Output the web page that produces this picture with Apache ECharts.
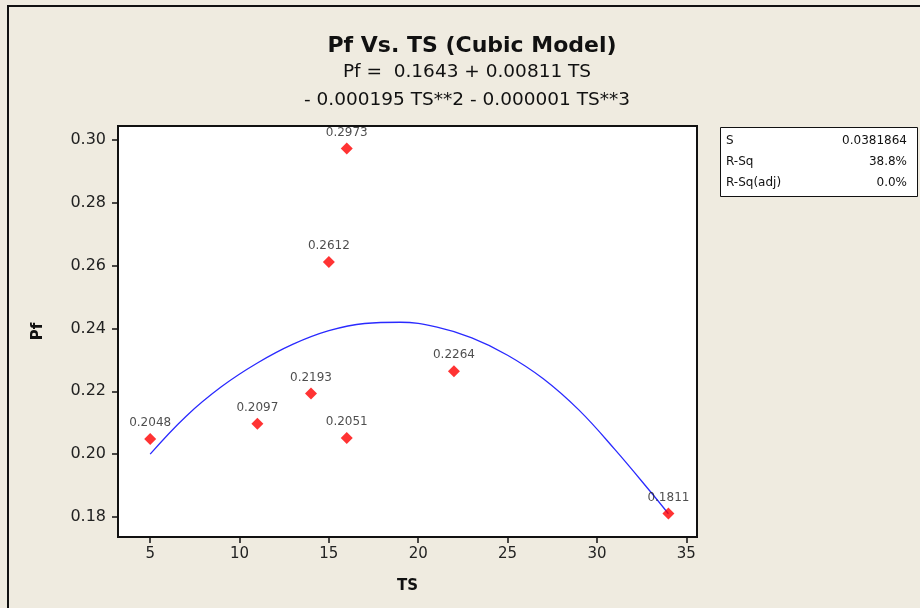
<!DOCTYPE html>
<html>
<head>
<meta charset="utf-8">
<script src="https://cdn.jsdelivr.net/npm/echarts@6/dist/echarts.min.js"></script>
<style>
html,body{margin:0;padding:0;background:#efebe0;}
#c{width:920px;height:608px;}
</style>
</head>
<body>
<div id="c"></div>
<script>
// Observed data
var tsValues = [5, 11, 14, 15, 16, 16, 22, 34];
var pfValues = [0.2048, 0.2097, 0.2193, 0.2612, 0.2973, 0.2051, 0.2264, 0.1811];
// Fitted curve
var fitTS = [5, 7, 9, 11, 13, 15, 17, 19, 21, 23, 25, 27, 29, 31, 33, 34];
var fitPf = [0.2000, 0.2120, 0.2215, 0.2290, 0.2350, 0.2393, 0.2416, 0.2420, 0.2405, 0.2370, 0.2315, 0.2240, 0.2140, 0.2015, 0.1880, 0.1810];
var xTicks = [5, 10, 15, 20, 25, 30, 35];
var yTicks = [0.18, 0.20, 0.22, 0.24, 0.26, 0.28, 0.30];
var statNames = ['S', 'R-Sq', 'R-Sq(adj)'];
var statValues = ['0.0381864', '38.8%', '0.0%'];

var FONT = 'DejaVu Sans';
var chart = echarts.init(document.getElementById('c'));

var pts = tsValues.map(function (x, i) { return [x, pfValues[i]]; });
var fit = fitTS.map(function (x, i) { return [x, fitPf[i]]; });

var graphics = [
  {type: 'rect', shape: {x: 8, y: 6, width: 940, height: 640}, style: {fill: 'none', stroke: '#111', lineWidth: 2}, z: 0},
  {type: 'rect', shape: {x: 720.5, y: 127.5, width: 197, height: 69}, style: {fill: '#fff', stroke: '#111', lineWidth: 1}},
  {type: 'text', x: 467, y: 72, style: {text: 'Pf =  0.1643 + 0.00811 TS', fontFamily: FONT, fontSize: 18.5, fill: '#111', align: 'center', verticalAlign: 'middle'}},
  {type: 'text', x: 467, y: 100, style: {text: '- 0.000195 TS**2 - 0.000001 TS**3', fontFamily: FONT, fontSize: 18.5, fill: '#111', align: 'center', verticalAlign: 'middle'}}
];
statNames.forEach(function (n, i) {
  graphics.push({type: 'text', x: 726, y: 141 + i * 21, style: {text: n, fontFamily: FONT, fontSize: 12, fill: '#111', verticalAlign: 'middle'}});
  graphics.push({type: 'text', x: 907, y: 141 + i * 21, style: {text: statValues[i], fontFamily: FONT, fontSize: 12, fill: '#111', align: 'right', verticalAlign: 'middle'}});
});

chart.setOption({
  backgroundColor: '#efebe0',
  animation: false,
  title: {
    text: 'Pf Vs. TS (Cubic Model)',
    left: 467, top: 30, textAlign: 'center',
    textStyle: {fontFamily: FONT, fontSize: 22, fontWeight: 'bold', color: '#111'}
  },
  grid: {left: 118, top: 126, right: 223, bottom: 71, show: true, backgroundColor: '#fff', borderColor: '#111', borderWidth: 2},
  xAxis: {
    type: 'value', min: 3.2, max: 35.6,
    name: 'TS', nameLocation: 'middle', nameGap: 42,
    nameTextStyle: {fontFamily: FONT, fontSize: 15, fontWeight: 'bold', color: '#111'},
    splitLine: {show: false},
    axisLine: {show: true, onZero: false, lineStyle: {color: '#111', width: 2}},
    axisTick: {show: true, length: 6, customValues: xTicks, lineStyle: {color: '#111', width: 1.5}},
    axisLabel: {customValues: xTicks, fontFamily: FONT, fontSize: 15, color: '#222', margin: 10}
  },
  yAxis: {
    type: 'value', min: 0.1736, max: 0.3045,
    name: 'Pf', nameLocation: 'middle', nameGap: 72, nameRotate: 90,
    nameTextStyle: {fontFamily: FONT, fontSize: 15, fontWeight: 'bold', color: '#111'},
    splitLine: {show: false},
    axisLine: {show: true, onZero: false, lineStyle: {color: '#111', width: 2}},
    axisTick: {show: true, length: 6, customValues: yTicks, lineStyle: {color: '#111', width: 1.5}},
    axisLabel: {customValues: yTicks, fontFamily: FONT, fontSize: 16, color: '#222', margin: 12,
      formatter: function (v) { return v.toFixed(2); }}
  },
  series: [
    {
      type: 'line', data: fit, smooth: 0.4, showSymbol: false, silent: true,
      lineStyle: {color: '#2a2aff', width: 1.3}, z: 2
    },
    {
      type: 'scatter', data: pts, symbol: 'diamond', symbolSize: 12,
      itemStyle: {color: '#ff0000'}, z: 3,
      label: {show: true, position: 'top', distance: 4, fontFamily: FONT, fontSize: 12, color: '#222',
        formatter: function (p) { return p.value[1].toFixed(4); }}
    }
  ],
  graphic: graphics
});
</script>
</body>
</html>
